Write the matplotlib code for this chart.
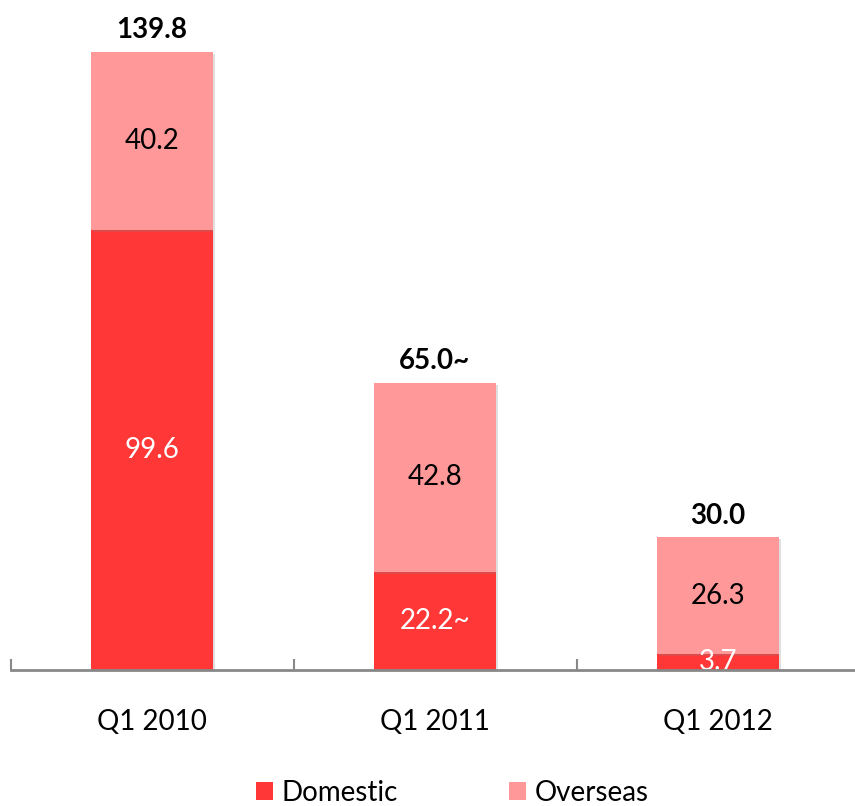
import matplotlib
matplotlib.use("Agg")
import matplotlib.pyplot as plt
import matplotlib.patheffects as pe

plt.rcParams['font.family'] = ['Lato', 'DejaVu Sans']

categories = ["Q1 2010", "Q1 2011", "Q1 2012"]
domestic = [99.6, 22.2, 3.7]
overseas = [40.2, 42.8, 26.3]
domestic_labels = ["99.6", "22.2~", "3.7"]
overseas_labels = ["40.2", "42.8", "26.3"]
total_labels = ["139.8", "65.0~", "30.0"]
totals = [139.8, 65.0, 30.0]

c_dom = "#FF3737"
c_ovs = "#FF9999"

fig = plt.figure(figsize=(8.55, 8.06), dpi=100)
ax = fig.add_axes([10.5/855, 136/806, 849/855, 663/806])

x = list(range(len(categories)))
w = 0.43
shadow = [pe.SimplePatchShadow(offset=(1.5, -1.5), alpha=0.25, shadow_rgbFace='gray'), pe.Normal()]
b1 = ax.bar(x, domestic, width=w, color=c_dom, label="Domestic", zorder=2)
b2 = ax.bar(x, overseas, width=w, bottom=domestic, color=c_ovs, label="Overseas", zorder=2)
for b in list(b1) + list(b2):
    b.set_path_effects(shadow)

fs = 20
for i in x:
    ax.text(i, domestic[i] / 2, domestic_labels[i], ha='center', va='center',
            color='white', fontsize=fs, zorder=3, clip_on=True)
    ax.text(i, domestic[i] + overseas[i] / 2, overseas_labels[i], ha='center', va='center',
            color='black', fontsize=fs, zorder=3)
    ax.text(i, totals[i] + 2.0, total_labels[i], ha='center', va='bottom',
            color='black', fontsize=fs, fontweight='bold', zorder=3)

ax.set_xlim(-0.5, 2.5)
ax.set_ylim(0, 150)
ax.set_yticks([])
ax.set_xticks([-0.5, 0.5, 1.5, 2.5])
ax.set_xticklabels([])
ax.set_xticks(x, minor=True)
ax.set_xticklabels(categories, minor=True, fontsize=fs)
ax.tick_params(axis='x', which='major', direction='in', length=8, width=1.5, color='#888888')
ax.tick_params(axis='x', which='minor', length=0, pad=28)
for s in ['top', 'right', 'left']:
    ax.spines[s].set_visible(False)
ax.spines['bottom'].set_color('#888888')
ax.spines['bottom'].set_linewidth(2)
ax.spines['bottom'].set_zorder(4)

leg = fig.legend(handles=[b1, b2], labels=["Domestic", "Overseas"], loc='center',
                 bbox_to_anchor=(452/855, 1 - 793/806), ncol=2, frameon=False,
                 fontsize=fs, handlelength=0.62, handleheight=0.62, handletextpad=0.3,
                 columnspacing=4.0)
for h in leg.legend_handles:
    h.set_path_effects([])

fig.savefig("out.png", dpi=100)
